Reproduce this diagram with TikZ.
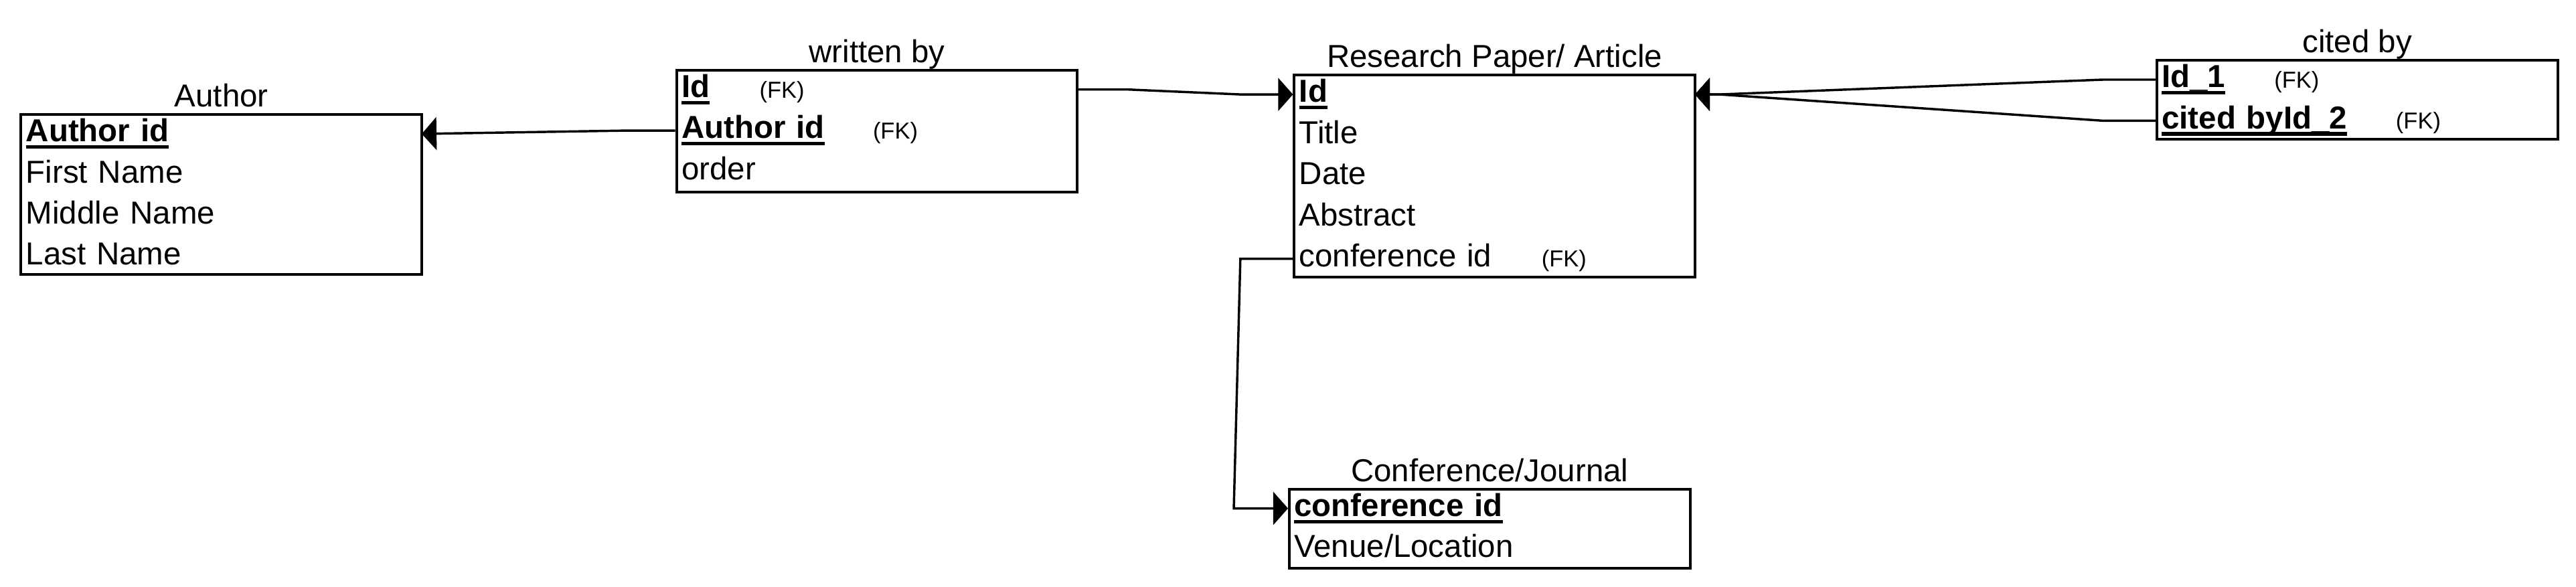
\documentclass[tikz,border=0pt]{standalone}
\usepackage{fontspec}
\setmainfont{Liberation Sans}
\usetikzlibrary{arrows.meta, positioning, calc}

% key fields: bold with a heavy underline
\newsavebox{\keybox}
\newcommand{\pkey}[1]{\sbox{\keybox}{\bfseries #1}\rlap{\rule[-2.4pt]{\wd\keybox}{1.2pt}}\usebox{\keybox}}

\begin{document}
\begin{tikzpicture}[
    >={Triangle[length=0.18cm, width=0.4cm]},
    every node/.style={font=\fontsize{11}{13}\selectfont},
]
% ============================================================
% Styles
% ============================================================
\tikzset{
    entity/.style={
        draw,
        line width=0.9pt,
        minimum width=4.88cm,
        inner sep=0pt,
        anchor=north west,
    },
    field/.style={
        minimum width=4.88cm,
        text width=4.74cm,
        minimum height=0.486cm,
        inner xsep=0.07cm,
        inner ysep=0pt,
        text height=5.5pt,
        text depth=0pt,
        align=left,
    },
    fk/.style={font=\fontsize{8}{9}\selectfont, inner sep=0pt, text height=5.7pt, text depth=0pt},
    title/.style={anchor=base},
    link/.style={->, line width=0.8pt},
}
\useasboundingbox (0,0) rectangle (31.36,-7.14);

% ============================================================
% Entities
% ============================================================
% --- Author ---
\node[entity, minimum height=1.944cm] (author) at (0.24,-1.38) {};
\node[title] (author-t) at ($(author.north)+(0,0.08)$) {Author};
\node[field, below right=0pt of author.north west] (au-aid) {\pkey{Author id}};
\node[field, below=0pt of au-aid] (au-first) {First Name};
\node[field, below=0pt of au-first] (au-mid) {Middle Name};
\node[field, below=0pt of au-mid] (au-last) {Last Name};

% --- written by ---
\node[entity, minimum height=1.48cm] (wb) at (8.22,-0.84) {};
\node[title] (wb-t) at ($(wb.north)+(0,0.08)$) {written by};
\node[field, below right=0pt of wb.north west] (wb-id) {\pkey{Id}};
\node[field, below=0pt of wb-id] (wb-aid) {\pkey{Author id}};
\node[field, below=0pt of wb-aid] (wb-order) {order};
\node[fk, right=1.02cm of wb-id.west] (wb-id-fk) {(FK)};
\node[fk, right=2.40cm of wb-aid.west] (wb-aid-fk) {(FK)};

% --- Research Paper/ Article ---
\node[entity, minimum height=2.46cm] (rp) at (15.74,-0.90) {};
\node[title] (rp-t) at ($(rp.north)+(0,0.08)$) {Research Paper/ Article};
\node[field, below right=0pt of rp.north west] (rp-id) {\pkey{Id}};
\node[field, below=0pt of rp-id] (rp-title) {Title};
\node[field, below=0pt of rp-title] (rp-date) {Date};
\node[field, below=0pt of rp-date] (rp-abs) {Abstract};
\node[field, below=0pt of rp-abs] (rp-cid) {conference id};
\node[fk, right=3.02cm of rp-cid.west] (rp-cid-fk) {(FK)};

% --- cited by ---
\node[entity, minimum height=0.96cm] (cb) at (26.24,-0.72) {};
\node[title] (cb-t) at ($(cb.north)+(0,0.08)$) {cited by};
\node[field, below right=0pt of cb.north west] (cb-id1) {\pkey{Id\_1}};
\node[field, below=0pt of cb-id1] (cb-id2) {\pkey{cited byId\_2}};
\node[fk, right=1.44cm of cb-id1.west] (cb-id1-fk) {(FK)};
\node[fk, right=2.92cm of cb-id2.west] (cb-id2-fk) {(FK)};

% --- Conference/Journal ---
\node[entity, minimum height=0.96cm] (cj) at (15.68,-5.94) {};
\node[title] (cj-t) at ($(cj.north)+(0,0.08)$) {Conference/Journal};
\node[field, below right=0pt of cj.north west] (cj-cid) {\pkey{conference id}};
\node[field, below=0pt of cj-cid] (cj-venue) {Venue/Location};

% ============================================================
% Relations
% ============================================================
\draw[link] (wb-aid.west) -- ++(-0.6,0) -- (au-aid.east);
\draw[link] (wb-id.east) -- ++(0.62,0) -- ($(rp-id.west)+(-0.64,0)$) -- (rp-id.west);
\foreach \c in {cb-id1, cb-id2} {
    \draw[link] (\c.west) -- ++(-0.64,0) -- ($(rp-id.east)+(0.3,0)$) -- (rp-id.east);
}
\draw[link] (rp-cid.west) -- ++(-0.64,0) -- ($(cj-cid.west)+(-0.66,0)$) -- (cj-cid.west);
\end{tikzpicture}
\end{document}
